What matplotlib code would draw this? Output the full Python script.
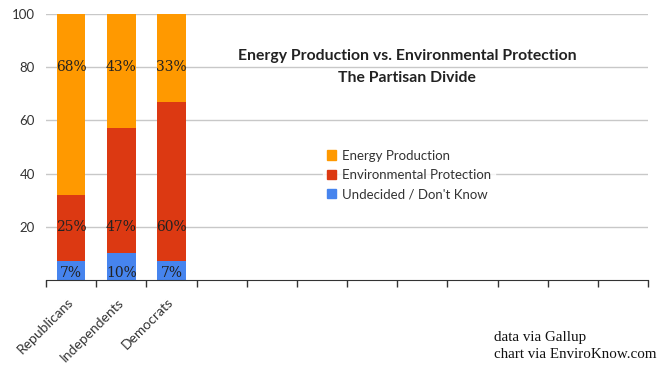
import matplotlib
matplotlib.use("Agg")
import matplotlib.pyplot as plt
from matplotlib.patches import Patch

# data (percent)
groups = ["Republicans", "Independents", "Democrats"]
undecided = [7, 10, 7]
environment = [25, 47, 60]
energy = [68, 43, 33]
series_names = ["Energy Production", "Environmental Protection", "Undecided / Don't Know"]

c_energy = "#FF9900"
c_env = "#DC3912"
c_und = "#4684EE"

plt.rcParams["font.family"] = ["Lato", "DejaVu Sans"]

fig = plt.figure(figsize=(6.66, 3.70), dpi=100)
ax = fig.add_axes([46 / 666, 1 - 280 / 370, 602 / 666, 266 / 370])

x = [i + 0.5 for i in range(len(groups))]
w = 0.57
env_bottom = undecided
energy_bottom = [a + b for a, b in zip(undecided, environment)]

ax.bar(x, undecided, w, color=c_und, zorder=2)
ax.bar(x, environment, w, bottom=env_bottom, color=c_env, zorder=2)
ax.bar(x, energy, w, bottom=energy_bottom, color=c_energy, zorder=2)

# percentage labels sit at fixed heights, like the original
lab_font = dict(family="DejaVu Serif", fontsize=10, color="#222222", ha="center", va="center", zorder=3)
for xi, u, e, g in zip(x, undecided, environment, energy):
    ax.text(xi, 2.8, f"{u}%", **lab_font)
    ax.text(xi, 20, f"{e}%", **lab_font)
    ax.text(xi, 80, f"{g}%", **lab_font)

ax.set_xlim(0, 12)
ax.set_ylim(0, 100)
ax.set_yticks([20, 40, 60, 80, 100])
ax.set_yticklabels(["20", "40", "60", "80", "100"])
ax.yaxis.grid(True, color="#C8C8C8", linewidth=1, zorder=0)
ax.set_axisbelow(True)
ax.tick_params(axis="y", length=0, labelsize=9.5, labelcolor="#333333", pad=8)

ax.set_xticks(range(13))
ax.set_xticklabels([])
ax.tick_params(axis="x", length=5, width=1, color="#333333", direction="out")
for xi, g in zip(x, groups):
    ax.text(xi - 0.08, -6, g, rotation=45, ha="right", va="top", rotation_mode="anchor",
            fontsize=10, color="#333333", family="Lato")

for s in ["top", "right", "left"]:
    ax.spines[s].set_visible(False)
ax.spines["bottom"].set_color("#333333")

fig.text(407 / 666, 1 - 56 / 370, "Energy Production vs. Environmental Protection",
         ha="center", va="center", fontsize=11.3, fontweight="bold", color="#222222")
fig.text(407 / 666, 1 - 78 / 370, "The Partisan Divide",
         ha="center", va="center", fontsize=11.3, fontweight="bold", color="#222222")

handles = [Patch(color=c_energy), Patch(color=c_env), Patch(color=c_und)]
leg = ax.legend(handles, series_names, loc="center left",
                bbox_to_anchor=(316 / 666, 1 - 175 / 370), bbox_transform=fig.transFigure,
                frameon=True, fancybox=False, fontsize=9.5, handlelength=0.75, handleheight=0.75,
                handletextpad=0.4, labelspacing=0.55, borderpad=0.3)
leg.get_frame().set_facecolor("white")
leg.get_frame().set_edgecolor("white")
for t in leg.get_texts():
    t.set_color("#333333")

fig.text(494 / 666, 1 - 338 / 370, "data via Gallup", family="Liberation Serif",
         fontsize=10.8, va="center", color="#111111")
fig.text(494 / 666, 1 - 355 / 370, "chart via EnviroKnow.com", family="Liberation Serif",
         fontsize=10.8, va="center", color="#111111")

fig.savefig("out.png", dpi=100)
